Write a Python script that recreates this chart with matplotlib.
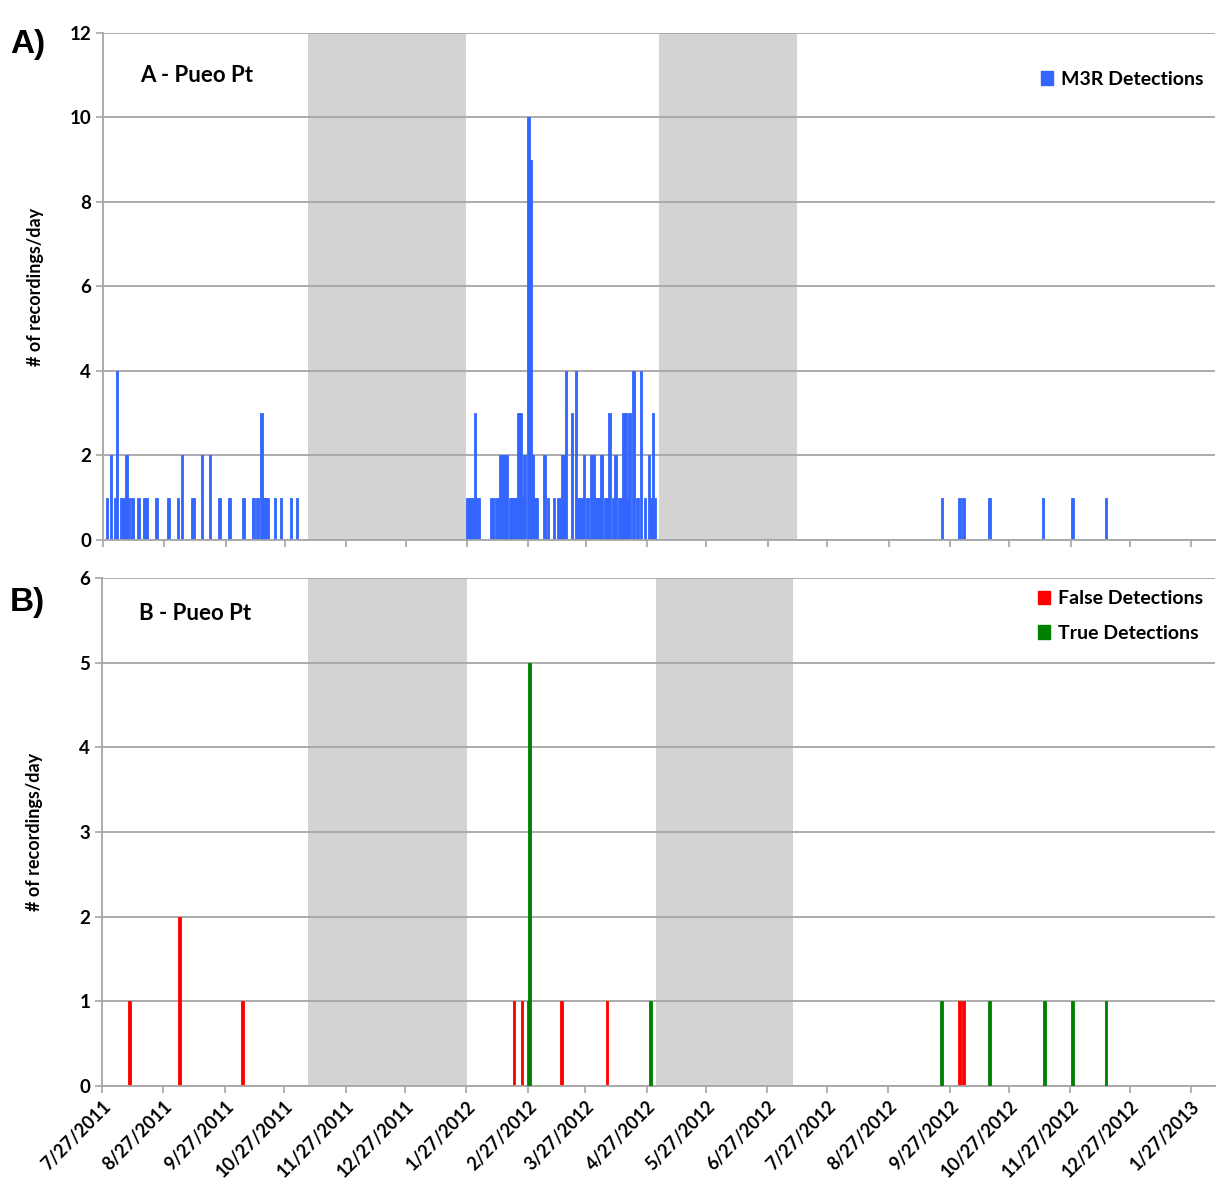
import numpy as np
import pandas as pd
import matplotlib
matplotlib.use("Agg")
import matplotlib.pyplot as plt
from matplotlib.patches import Patch

plt.rcParams['font.family'] = ['Lato', 'DejaVu Sans']

start = pd.Timestamp('2011-07-27')

# Panel A - M3R detections (days since 7/27/2011, recordings/day)
a_days = [2, 4, 6, 7, 9, 10, 11, 12, 13, 15, 18, 21, 22, 27, 33, 38, 40, 45, 46, 50, 54,
          59, 64, 71, 76, 78, 80, 81, 82, 83, 87, 90, 95, 98,
          184, 185, 186, 187, 188, 189, 190, 196, 197, 199, 200, 201, 202, 203, 204,
          206, 207, 208, 209, 210, 211, 212, 213, 215, 216, 217, 218, 219,
          223, 225, 228, 230, 231, 232, 233, 234, 237, 239, 240, 241, 242, 243, 245,
          247, 248, 249, 250, 251, 252, 254, 255, 256, 258, 259, 261, 262, 263, 264,
          265, 266, 268, 270, 272, 274, 276, 277, 278, 279,
          424, 433, 435, 448, 475, 490, 507]
a_counts = [1, 2, 1, 4, 1, 1, 1, 2, 1, 1, 1, 1, 1, 1, 1, 1, 2, 1, 1, 2, 2,
            1, 1, 1, 1, 1, 3, 1, 1, 1, 1, 1, 1, 1,
            1, 1, 1, 1, 3, 1, 1, 1, 1, 1, 1, 2, 2, 2, 2,
            1, 1, 1, 1, 3, 3, 1, 2, 10, 9, 2, 1, 1,
            2, 1, 1, 1, 1, 2, 2, 4, 3, 4, 1, 1, 1, 2, 1,
            2, 2, 1, 1, 1, 2, 1, 1, 3, 1, 2, 1, 1, 3, 3,
            1, 3, 4, 1, 4, 1, 2, 1, 3, 1,
            1, 1, 1, 1, 1, 1, 1]

# Panel B - false / true detections
false_days = [14, 39, 71, 208, 212, 232, 255, 433, 435]
false_counts = [1, 2, 1, 1, 1, 1, 1, 1, 1]
true_days = [215, 216, 277, 424, 448, 476, 490, 507]
true_counts = [1, 5, 1, 1, 1, 1, 1, 1]

# shaded periods (days since start)
a_shade = [(103.5, 183.5), (281, 350.5)]
b_shade = [(104, 184.5), (279.5, 349)]

tick_dates = pd.date_range('2011-07-27', '2013-01-27', freq=pd.DateOffset(months=1))
tick_pos = [(d - start).days for d in tick_dates]
tick_labels = [f"{d.month}/{d.day}/{d.year}" for d in tick_dates]

fig = plt.figure(figsize=(12.17, 11.9), dpi=100)
axA = fig.add_axes([103/1217, 1 - 540/1190, 1112/1217, 507/1190])
axB = fig.add_axes([102/1217, 1 - 1086/1190, 1113/1217, 508/1190])

grid_col = '#a6a6a6'


def style(ax, ymax, ystep, shade):
    for s0, s1 in shade:
        ax.axvspan(s0, s1, color='#d3d3d3', zorder=0, lw=0)
    ax.set_xlim(0, 562)
    ax.set_ylim(0, ymax)
    ax.set_yticks(np.arange(0, ymax + 0.1, ystep))
    ax.yaxis.grid(True, color=grid_col, lw=1.3, zorder=1)
    ax.set_axisbelow(True)
    for sp in ['top', 'right']:
        ax.spines[sp].set_visible(False)
    for sp in ['left', 'bottom']:
        ax.spines[sp].set_color(grid_col)
        ax.spines[sp].set_linewidth(1.3)
    ax.set_xticks(tick_pos)
    ax.tick_params(axis='both', colors=grid_col, length=5, width=1.2, labelcolor='black',
                   labelsize=13.5)
    for lab in ax.get_yticklabels():
        lab.set_fontweight('bold')
    ax.set_ylabel('# of recordings/day', fontsize=13, fontweight='bold')
    ax.yaxis.set_label_coords(-0.053, 0.5)


style(axA, 12, 2, a_shade)
axA.bar(a_days, a_counts, width=1.3, color='#3366ff', edgecolor='#3366ff', lw=0.6, zorder=2)
axA.set_xticklabels([])
axA.text(0.033, 0.917, 'A - Pueo Pt', transform=axA.transAxes, fontsize=16,
         fontweight='bold', va='center')
axA.legend(handles=[Patch(color='#3366ff', label='M3R Detections')], loc='upper right',
           bbox_to_anchor=(1.005, 0.96), frameon=False, handlelength=0.6, handleheight=0.7,
           handletextpad=0.4, prop={'weight': 'bold', 'size': 14})

style(axB, 6, 1, b_shade)
axB.bar(false_days, false_counts, width=1.3, color='#ff0000', edgecolor='#ff0000', lw=0.6,
        zorder=2)
axB.bar(true_days, true_counts, width=1.3, color='#008000', edgecolor='#008000', lw=0.6,
        zorder=3)
axB.set_xticklabels(tick_labels, rotation=45, ha='right', rotation_mode='anchor',
                    fontweight='bold', fontsize=13)
axB.text(0.033, 0.93, 'B - Pueo Pt', transform=axB.transAxes, fontsize=16,
         fontweight='bold', va='center')
axB.legend(handles=[Patch(color='#ff0000', label='False Detections'),
                    Patch(color='#008000', label='True Detections')],
           loc='upper right', bbox_to_anchor=(1.005, 1.01), frameon=False,
           handlelength=0.6, handleheight=0.7, handletextpad=0.4, labelspacing=0.9,
           prop={'weight': 'bold', 'size': 14})

fig.text(10/1217, 1 - 45/1190, 'A)', fontsize=24, fontweight='bold', va='center',
         family='Liberation Sans')
fig.text(10/1217, 1 - 602/1190, 'B)', fontsize=24, fontweight='bold', va='center',
         family='Liberation Sans')

fig.savefig('out.png', dpi=100)
